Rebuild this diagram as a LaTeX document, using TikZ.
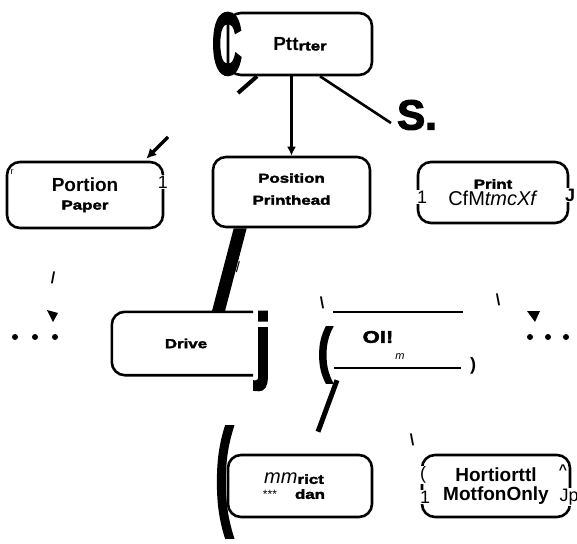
\documentclass[tikz,border=0pt]{standalone}
\usepackage{fontspec}
\setmainfont{Liberation Sans}
\newfontfamily\heavyfam[FakeStretch=1.3,FakeBold=2.5]{Liberation Sans Bold}
\newfontfamily\fatfam[FakeBold=3]{Liberation Sans Bold}
\usetikzlibrary{arrows.meta}
\newcommand\heavytxt{\fontsize{13}{15}\selectfont\heavyfam}
\begin{document}
\begin{tikzpicture}[x=1pt,y=-1pt,
  boxshape/.style={draw, line width=2.6pt, rounded corners=13pt, inner sep=0pt, align=center,
    font=\fontsize{19}{18}\selectfont\bfseries},
  openbox/.style={inner sep=0pt, align=center, font=\fontsize{19}{18}\selectfont\bfseries},
  boxline/.style={line width=2.6pt, rounded corners=13pt},
  conn/.style={line width=2.6pt},
  stray/.style={inner sep=0.6pt, fill=white, font=\fontsize{18}{18}\selectfont\bfseries},
  thin/.style={inner sep=0pt, font=\fontsize{16}{16}\selectfont\bfseries},
]
\useasboundingbox[fill=white] (0,0) rectangle (577,543);

% boxes
\node[boxshape, minimum width=144pt, minimum height=62pt] (top) at (300,44) {Ptt{\heavytxt rter}};
\node[boxshape, minimum width=156pt, minimum height=66pt] (pp) at (85,195) {Portion\\[0pt]{\heavytxt Paper}};
\node[boxshape, minimum width=157pt, minimum height=70pt] (ph) at (291.5,192) {\raisebox{6pt}{\heavytxt Position}\\[4pt]\raisebox{6pt}{\heavytxt Printhead}};
\node[boxshape, minimum width=150pt, minimum height=61pt] (pc) at (493,192.5) {{\heavytxt Print}\\[-1pt]{\fontsize{20}{20}\selectfont\mdseries CfM\textit{tmcXf}}};
\node[openbox, minimum width=141pt, minimum height=63pt] (dr) at (182.5,343.5) {\hspace{7pt}\heavytxt Drive};
\node[openbox, minimum width=130pt, minimum height=56pt] (oil) at (398,340) {};
\node[boxshape, minimum width=144pt, minimum height=62pt] (mm) at (300,486) {\hspace*{-12pt}{\fontsize{20}{20}\selectfont\mdseries\itshape mm}{\heavytxt rict}\\[-3pt]\hspace*{-12pt}{\fontsize{12}{12}\selectfont\mdseries ***}\hspace{18pt}{\heavytxt dan}};
\node[boxshape, minimum width=148pt, minimum height=62pt] (hm) at (496,486) {Hortiorttl\\[1pt]MotfonOnly};

% open box outlines
\draw[boxline] (dr.north east) -- (dr.north west) -- (dr.south west) -- (dr.south east);
\draw[line width=2.4pt] (oil.north west) -- (oil.north east);
\draw[line width=2.4pt] ([xshift=1pt]oil.south west) -- ([xshift=-2pt]oil.south east);
\node[inner sep=0pt, font=\fontsize{17}{17}\selectfont\heavyfam] (oiltext) at (378,337) {OI!};
\node[inner sep=0pt, font=\fontsize{11}{11}\selectfont\itshape] (oilm) at (400,357) {m};

% connectors
\draw[conn, -{Latex[length=9pt,width=9pt]}] (ph.north |- top.south) -- (ph.north);
\coordinate (send) at (391,123);
\draw[conn] ([xshift=20pt]top.south) -- (send);
\coordinate (stub) at (238,93);
\draw[line width=4pt] ([xshift=-43pt]top.south) -- (stub);
\coordinate (pa) at (168,137);
\draw[line width=3.5pt, -{Latex[length=10pt,width=10pt]}] (pa) -- ([xshift=-18pt,yshift=2pt]pp.north east);
\fill ([xshift=22pt]ph.south west) -- ([xshift=35pt]ph.south west)
   -- ([xshift=113pt]dr.north west) -- ([xshift=100pt]dr.north west) -- cycle;
\draw[line width=5pt] ([xshift=-61pt,yshift=-12pt]oil.south) -- ([xshift=18pt,yshift=22pt]mm.north);

% stray marks
\node[inner sep=0pt] (bigc) at (227,44) {\resizebox*{30pt}{62pt}{\fatfam C}};
\node[inner sep=0pt, font=\fontsize{42}{42}\selectfont\fatfam] (sdot) at (417,115) {S.};
\node[inner sep=0pt, font=\fontsize{9}{9}\selectfont] (rr) at (12,172) {r};
\node[stray, font=\fontsize{18}{18}\selectfont] (one1) at (163,182) {1};
\node[stray, font=\fontsize{18}{18}\selectfont] (one2) at (422,197) {1};
\node[stray] (jj1) at (570,195) {J};
\node[thin, font=\fontsize{15}{16}\selectfont] (sl1) at (238,267) {/};
\node[thin] (sl2) at (53,278) {/};
\fill (47,310) -- (58,313) -- (53,322) -- cycle;
\fill (15,337) circle (3) (35,337) circle (3) (55,337) circle (3);
\node[inner sep=0pt] (bigj) at (263,351) {\resizebox*{16pt}{78pt}{\fatfam j}};
\node[thin] (bs1) at (322,303) {\textbackslash};
\node[inner sep=0pt] (lpar) at (325,355) {\resizebox*{15pt}{56pt}{\fatfam (}};
\node[thin, font=\fontsize{18}{18}\selectfont\bfseries] (rpar) at (473,366) {)};
\node[thin] (bs2) at (498,300) {\textbackslash};
\fill (527,311) -- (540,311) -- (535,322) -- cycle;
\fill (530,337) circle (3) (548,337) circle (3) (566,337) circle (3);
\node[inner sep=0pt] (bigpar) at (224,482) {\resizebox*{18pt}{110pt}{\fatfam (}};
\node[thin] (bs3) at (412,440) {\textbackslash};
\node[stray, font=\fontsize{18}{18}\selectfont] (lp2) at (423,475) {(};
\node[stray, font=\fontsize{18}{18}\selectfont] (one3) at (425,497) {1};
\node[stray, font=\fontsize{14}{14}\selectfont\bfseries] (caret) at (563,470) {\^{}};
\node[stray, font=\fontsize{18}{18}\selectfont] (jp) at (569,497) {Jp};
\end{tikzpicture}
\end{document}
